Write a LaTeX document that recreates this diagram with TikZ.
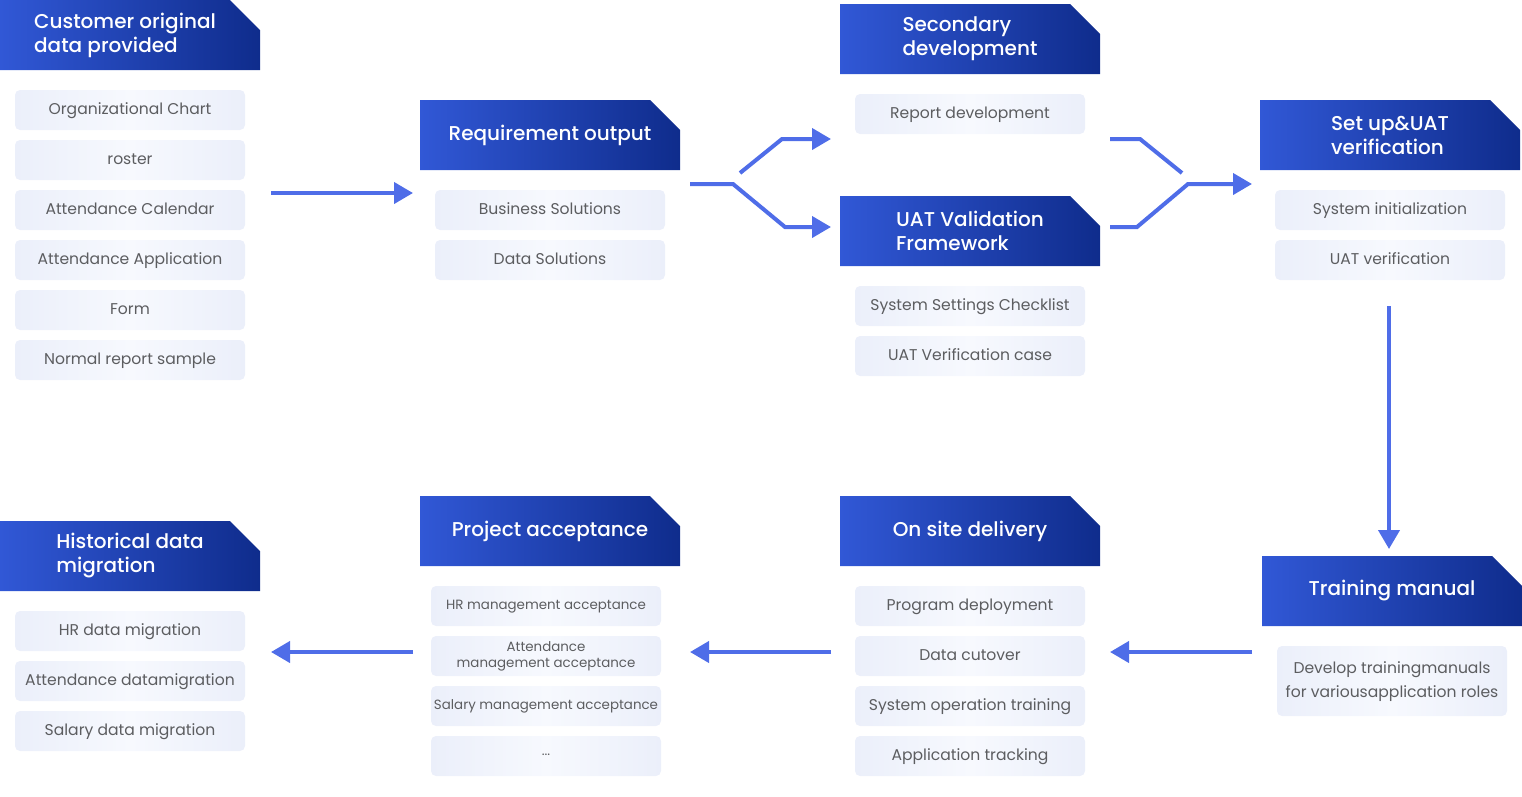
\documentclass[tikz,border=0pt]{standalone}
\usepackage{fontspec}
\setmainfont{Poppins}
\newfontfamily\hfont{Poppins Medium}
\usetikzlibrary{arrows.meta}
\definecolor{hl}{HTML}{3158D6}
\definecolor{hr}{HTML}{0F2C8C}
\definecolor{ibox}{HTML}{EBEFFA}
\definecolor{ibc}{HTML}{F7F9FE}
\definecolor{itxt}{HTML}{5C5D60}
\definecolor{arr}{HTML}{4F6DE8}
\tikzset{
  htext/.style={text=white, font=\hfont\fontsize{20}{24}\selectfont, align=left, inner sep=0pt},
  item/.style={rounded corners=5pt, left color=ibox, right color=ibox, middle color=ibc, minimum width=230pt, minimum height=40pt, inner sep=0pt, text=itxt, font=\fontsize{15.6}{24}\selectfont, align=center, text depth=2pt},
  smallitem/.style={item, font=\fontsize{13.4}{16}\selectfont},
  tip/.style={-{Triangle[length=19pt,width=21pt]}},
  flowline/.style={draw=arr, line width=4pt},
  flow/.style={flowline, tip},
}
\newcommand\hdr[5][0]{%
  \shade[left color=hl, right color=hr] (#3,#4) -- ++(230,0) -- ++(30,30) -- ++(0,40) -- ++(-260,0) -- cycle;
  \node[htext] (#2) at (#3+130+#1,#4+35) {#5};
}
\begin{document}
\begin{tikzpicture}[x=1pt,y=-1pt]
\useasboundingbox (0,0) rectangle (1522,796);
% column 1
\hdr[-5]{h1}{0}{0}{Customer original\\data provided}
\node[item] (a1) at (130,110) {Organizational Chart};
\node[item] (a2) at (130,160) {roster};
\node[item] (a3) at (130,210) {Attendance Calendar};
\node[item] (a4) at (130,260) {Attendance Application};
\node[item] (a5) at (130,310) {Form};
\node[item] (a6) at (130,360) {Normal report sample};
% column 2
\hdr{h2}{420}{100}{Requirement output}
\node[item] (b1) at (550,210) {Business Solutions};
\node[item] (b2) at (550,260) {Data Solutions};
% column 3
\hdr{h3}{840}{4}{Secondary\\development}
\node[item] (c1) at (970,114) {Report development};
\hdr{h4}{840}{196}{UAT Validation\\Framework}
\node[item] (d1) at (970,306) {System Settings Checklist};
\node[item] (d2) at (970,356) {UAT Verification case};
% column 4
\hdr{h5}{1260}{100}{Set up\&UAT\\verification}
\node[item] (e1) at (1390,210) {System initialization};
\node[item] (e2) at (1390,260) {UAT verification};
% bottom row
\hdr{h6}{1262}{556}{Training manual}
\node[item, minimum height=70pt] (f1) at (1392,681) {Develop trainingmanuals\\for variousapplication roles};
\hdr{h7}{840}{496}{On site delivery}
\node[item] (g1) at (970,606) {Program deployment};
\node[item] (g2) at (970,656) {Data cutover};
\node[item] (g3) at (970,706) {System operation training};
\node[item] (g4) at (970,756) {Application tracking};
\hdr{h8}{420}{496}{Project acceptance}
\node[smallitem] (p1) at (546,606) {HR management acceptance};
\node[smallitem] (p2) at (546,656) {Attendance\\management acceptance};
\node[smallitem] (p3) at (546,706) {Salary management acceptance};
\node[smallitem] (p4) at (546,756) {...};
\hdr{h9}{0}{521}{Historical data\\migration}
\node[item] (m1) at (130,631) {HR data migration};
\node[item] (m2) at (130,681) {Attendance datamigration};
\node[item] (m3) at (130,731) {Salary data migration};
% connectors
\coordinate (s1) at (271,193); \coordinate (t1) at (413,193);
\draw[flow] (s1) -- (t1);
\coordinate (s2) at (690,184); \coordinate (t2a) at (831,139); \coordinate (t2b) at (831,227);
\coordinate (s2u) at (740,173);
\draw[flow] (s2) -- (733,184) -- (785,227) -- (t2b);
\draw[flow] (s2u) -- (782,139) -- (t2a);
\coordinate (s3a) at (1110,139); \coordinate (s3b) at (1110,227); \coordinate (t3) at (1252,184);
\coordinate (e3a) at (1182,173);
\draw[flowline] (s3a) -- (1140,139) -- (e3a);
\draw[flow] (s3b) -- (1137,227) -- (1188,184) -- (t3);
\coordinate (s4) at (1389,306); \coordinate (t4) at (1389,549);
\draw[flow] (s4) -- (t4);
\coordinate (s5) at (1252,652); \coordinate (t5) at (1110,652);
\draw[flow] (s5) -- (t5);
\coordinate (s6) at (831,652); \coordinate (t6) at (690,652);
\draw[flow] (s6) -- (t6);
\coordinate (s7) at (413,652); \coordinate (t7) at (271,652);
\draw[flow] (s7) -- (t7);
\end{tikzpicture}
\end{document}
